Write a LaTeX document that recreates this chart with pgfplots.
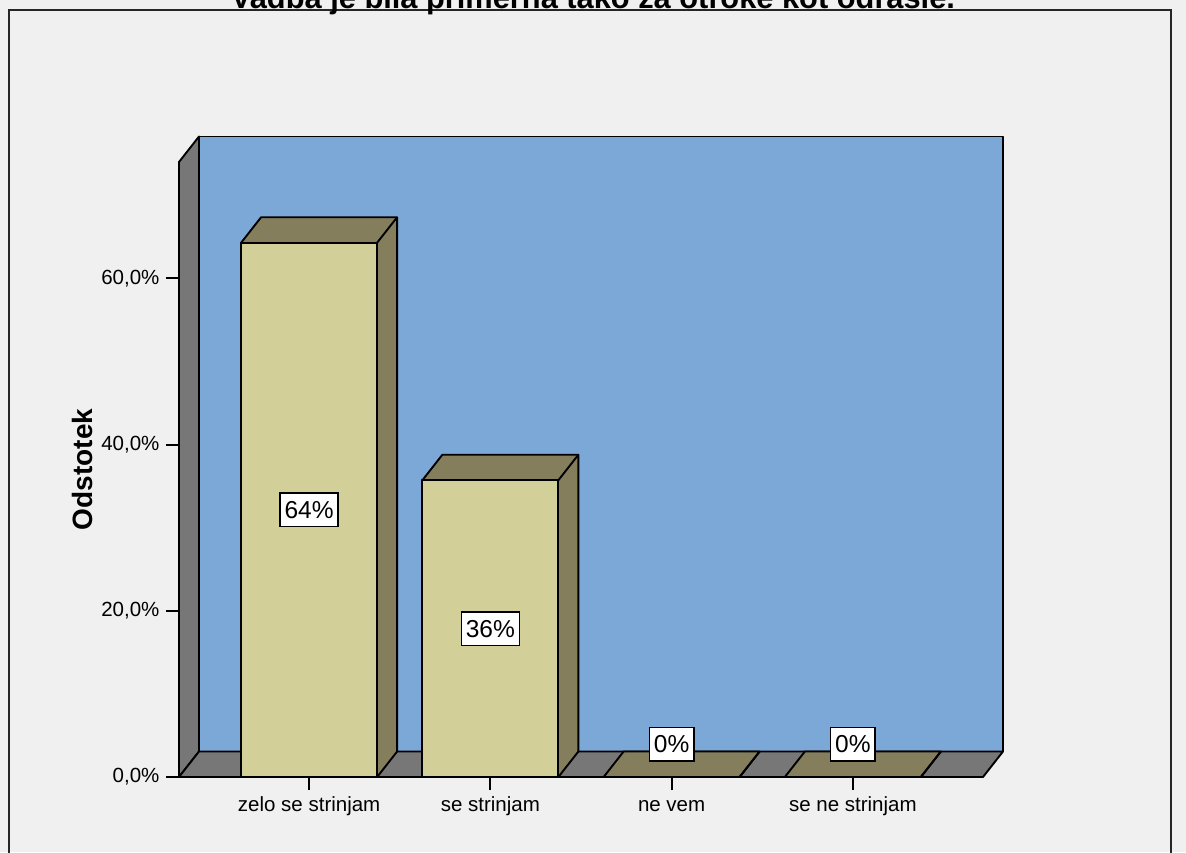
\documentclass[border=0pt]{standalone}
\usepackage{pgfplots}
\pgfplotsset{compat=1.18}
\usepackage{pgfplotstable}
\usepackage{fontspec}
\setmainfont{Liberation Sans}
\definecolor{bgcol}{HTML}{F0F0F0}
\definecolor{wallblue}{HTML}{7BA8D6}
\definecolor{wallgray}{HTML}{777777}
\definecolor{bartan}{HTML}{D3CF99}
\definecolor{barolive}{HTML}{847E5D}

\pgfplotstableread{
x v ly
0 64.29 32.14
1 35.71 17.86
2 0 3.95
3 0 3.95
}\bardata

\begin{document}
\begin{tikzpicture}
\path[use as bounding box, fill=bgcol] (0,0) rectangle (1186pt,852pt);
\draw[line width=2pt, black!85] (9pt,-20pt) rectangle (1171pt,842pt);
\node[anchor=base, font=\bfseries\fontsize{30.8}{36}\selectfont] at (593pt,843pt) {Vadba je bila primerna tako za otroke kot odrasle.};
\begin{axis}[
  at={(179pt,75pt)}, anchor=south west,
  scale only axis, width=804pt, height=615pt,
  xmin=-0.718, xmax=3.718, ymin=0, ymax=74,
  clip=false,
  axis x line*=bottom, axis y line*=left,
  axis line style={line width=1.9pt},
  tick align=outside, major tick length=13pt,
  tick style={line width=1.9pt, black},
  xtick={0,1,2,3},
  xticklabels={zelo se strinjam, se strinjam, ne vem, se ne strinjam},
  xticklabel style={text height=15pt, text depth=4pt, yshift=-3pt},
  ytick={0,20,40,60},
  yticklabel={\pgfmathprintnumber{\tick}\%},
  yticklabel style={xshift=-3pt, /pgf/number format/.cd, fixed, fixed zerofill, precision=1, use comma, assume math mode=true},
  ticklabel style={font=\fontsize{20.5}{24}\selectfont},
  ylabel={Odstotek},
  ylabel style={font=\bfseries\fontsize{28}{34}\selectfont, at={([xshift=-97pt]axis description cs:0,0.5)}, anchor=center},
]
% walls
\filldraw[fill=wallgray, draw=black, line width=1.9pt, line join=round]
  (axis cs:-0.718,0) -- (axis cs:-0.718,74) -- ([shift={(20pt,25.5pt)}]axis cs:-0.718,74) -- ([shift={(20pt,25.5pt)}]axis cs:-0.718,0) -- cycle;
\filldraw[fill=wallblue, draw=black, line width=1.9pt, line join=round]
  ([shift={(20pt,25.5pt)}]axis cs:-0.718,0) rectangle ([shift={(20pt,25.5pt)}]axis cs:3.718,74);
\filldraw[fill=wallgray, draw=black, line width=1.9pt, line join=round]
  (axis cs:-0.718,0) -- (axis cs:3.718,0) -- ([shift={(20pt,25.5pt)}]axis cs:3.718,0) -- ([shift={(20pt,25.5pt)}]axis cs:-0.718,0) -- cycle;
% 3D bars: mark at the top centre of each bar's front face
\addplot[scatter, only marks, mark=*, mark size=0pt, mark options={draw=none, fill=none},
  visualization depends on={\thisrow{v} \as \barv},
  scatter/@pre marker code/.code={%
    \pgfmathsetmacro{\bh}{\barv*8.31081}%
    \pgfmathsetmacro{\bhb}{25.5-\bh}%
    \filldraw[fill=barolive, draw=black, line width=1.9pt, line join=round]
      (-68pt,-\bh pt) -- (-68pt,0pt) -- (-48pt,25.5pt) -- (88pt,25.5pt) -- (88pt,\bhb pt) -- (68pt,-\bh pt) -- cycle;
    \draw[black, line width=1.9pt] (68pt,0pt) -- (88pt,25.5pt);
    \filldraw[fill=bartan, draw=black, line width=1.9pt, line join=round]
      (-68pt,-\bh pt) rectangle (68pt,0pt);
  },
  scatter/@post marker code/.code={}
] table[x=x, y=v] {\bardata};
% labels
\addplot[scatter, only marks, mark=*, mark size=0pt, mark options={draw=none, fill=none},
  visualization depends on={\thisrow{v} \as \labv},
  scatter/@pre marker code/.code={%
    \node[draw=black, fill=white, line width=1.5pt, font=\fontsize{24.5}{29}\selectfont,
      inner xsep=4.5pt, inner ysep=8pt, text height=17.6pt, text depth=0pt, anchor=center]
      at (0pt,0pt) {\pgfmathprintnumber[fixed, precision=0, assume math mode=true]{\labv}\%};
  },
  scatter/@post marker code/.code={}
] table[x=x, y=ly] {\bardata};
\end{axis}
\end{tikzpicture}
\end{document}
